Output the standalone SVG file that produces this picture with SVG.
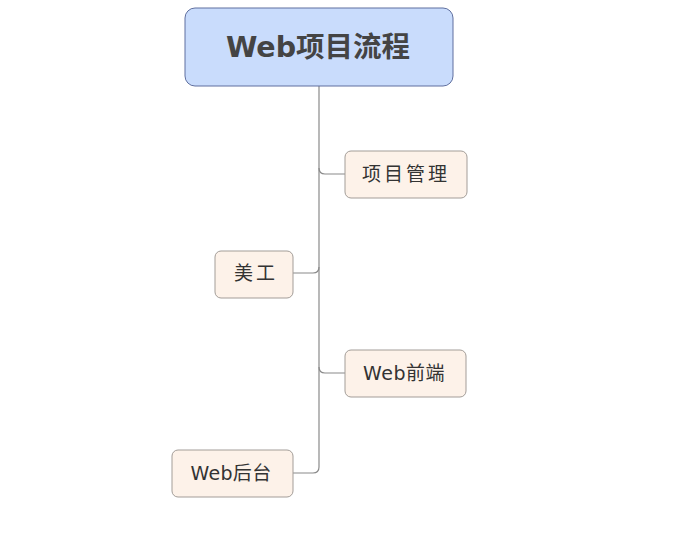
<svg xmlns="http://www.w3.org/2000/svg" width="686" height="560" viewBox="0 0 686 560">
<style>
.root{fill:#c9dcfc;stroke:#5f6f9f;stroke-width:1}
.node{fill:#fdf2e9;stroke:#a39d98;stroke-width:1}
.conn{fill:none;stroke:#8a8a8a;stroke-width:1.2}
.rt{font-family:"DejaVu Sans","Noto Sans CJK SC",sans-serif;font-size:28.5px;font-weight:bold;fill:#444;text-anchor:middle}
.t{font-family:"DejaVu Sans","Noto Sans CJK SC",sans-serif;font-size:19px;fill:#333;text-anchor:middle}
</style>
<rect width="686" height="560" fill="#fff"/>
<g id="connectors">
<path class="conn" d="M319,86 V467 Q319,473 313,473 H293"/>
<path class="conn" d="M319,168 Q319,174 325,174 H345"/>
<path class="conn" d="M319,267 Q319,273 313,273 H293"/>
<path class="conn" d="M319,367 Q319,373 325,373 H345"/>
</g>
<g id="root">
<rect class="root" x="185" y="8" width="268" height="78" rx="10"/>
<text class="rt" x="318" y="57">Web项目流程</text>
</g>
<g id="n1">
<rect class="node" x="345" y="151" width="122" height="47" rx="6"/>
<text class="t" x="406" y="181" letter-spacing="3">项目管理</text>
</g>
<g id="n2">
<rect class="node" x="215" y="251" width="78" height="47" rx="6"/>
<text class="t" x="256" y="280" letter-spacing="3">美工</text>
</g>
<g id="n3">
<rect class="node" x="345" y="350" width="121" height="47" rx="6"/>
<text class="t" x="404" y="380" letter-spacing="0.5">Web前端</text>
</g>
<g id="n4">
<rect class="node" x="172" y="450" width="121" height="47" rx="6"/>
<text class="t" x="231" y="480" letter-spacing="0.3">Web后台</text>
</g>
</svg>
